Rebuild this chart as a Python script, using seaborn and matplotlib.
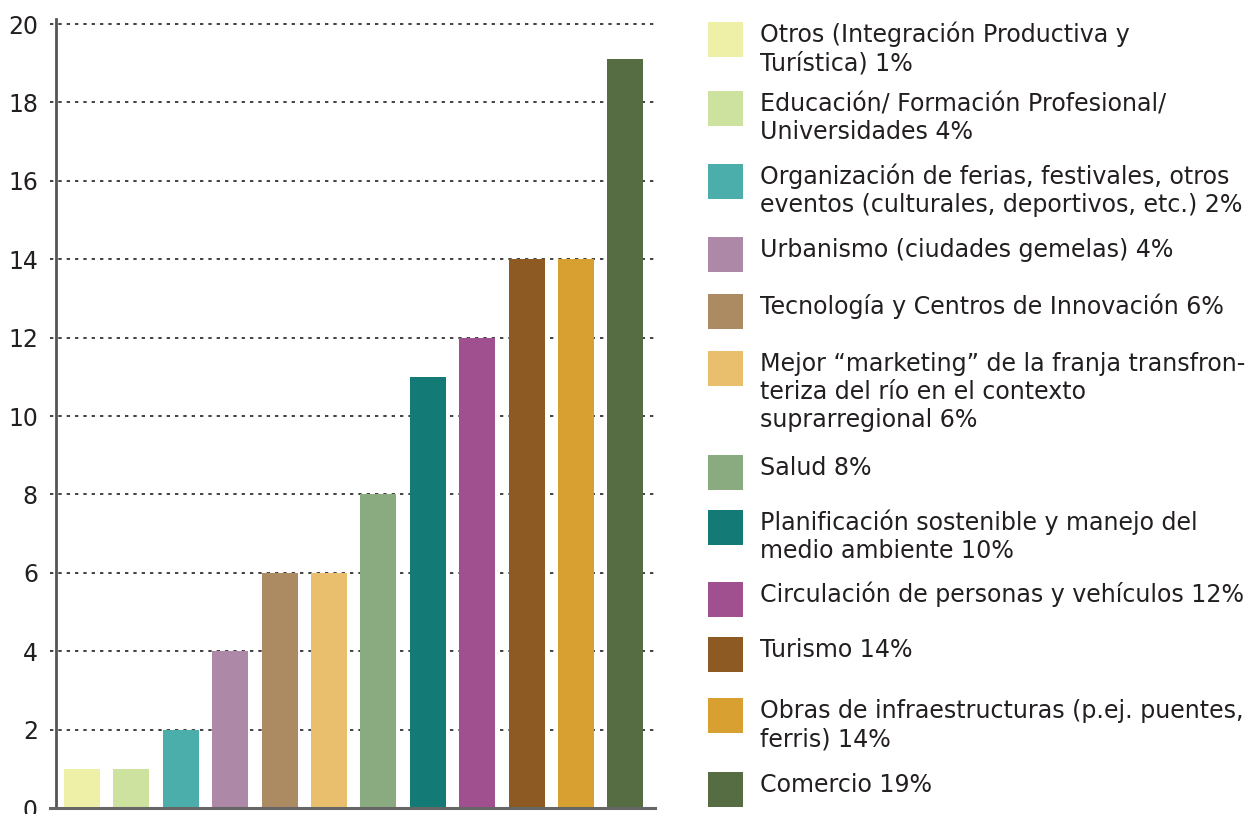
import numpy as np
import pandas as pd
import matplotlib
matplotlib.use("Agg")
import matplotlib.pyplot as plt
import seaborn as sns
from matplotlib.patches import Rectangle

# data
categories = [
    "Otros", "Educación", "Organización", "Urbanismo", "Tecnología", "Marketing",
    "Salud", "Planificación", "Circulación", "Turismo", "Obras", "Comercio",
]
values = [1, 1, 2, 4, 6, 6, 8, 11, 12, 14, 14, 19.1]
colors = [
    "#EFF0A8", "#CCE29E", "#4BAEAB", "#AE89A7", "#AC8A62", "#E9BF6E",
    "#8AAA80", "#137A75", "#A04F8F", "#8C5A22", "#D8A030", "#566D43",
]
legend_labels = [
    "Otros (Integración Productiva y\nTurística) 1%",
    "Educación/ Formación Profesional/\nUniversidades 4%",
    "Organización de ferias, festivales, otros\neventos (culturales, deportivos, etc.) 2%",
    "Urbanismo (ciudades gemelas) 4%",
    "Tecnología y Centros de Innovación 6%",
    "Mejor “marketing” de la franja transfron-\nteriza del río en el contexto\nsuprarregional 6%",
    "Salud 8%",
    "Planificación sostenible y manejo del\nmedio ambiente 10%",
    "Circulación de personas y vehículos 12%",
    "Turismo 14%",
    "Obras de infraestructuras (p.ej. puentes,\nferris) 14%",
    "Comercio 19%",
]
y_ticks = [0, 2, 4, 6, 8, 10, 12, 14, 16, 18, 20]

sns.set_theme(style="white")
plt.rcParams["font.family"] = ["DejaVu Sans"]
text_color = "#231f20"

W, H = 1258, 814
fig = plt.figure(figsize=(W / 100, H / 100), dpi=100)
ax = fig.add_axes([56 / W, 6 / H, (655 - 56) / W, (808 - 19) / H])

df = pd.DataFrame({"cat": categories, "val": values})
sns.barplot(data=df, x="cat", y="val", hue="cat", palette=colors,
            legend=False, width=0.73, saturation=1, linewidth=0,
            ax=ax, zorder=3)

ax.set_xlim(-0.526, 11.6)
ax.set_ylim(0, 20.13)
ax.set_yticks(y_ticks)
ax.set_yticklabels([str(t) for t in y_ticks], fontsize=17, color=text_color)
ax.tick_params(axis="y", length=0, pad=13)
ax.set_xticks([])
ax.set_xlabel("")
ax.set_ylabel("")

# dotted grid, slightly extended past the left spine
ax.hlines(y_ticks[1:], -0.01, 1, transform=ax.get_yaxis_transform(),
          colors="#222222", linestyles=(0, (2, 3)), linewidth=1.2,
          clip_on=False, zorder=1)

for s in ["top", "right"]:
    ax.spines[s].set_visible(False)
ax.spines["left"].set_color("#555555")
ax.spines["left"].set_linewidth(2)
ax.spines["bottom"].set_color("#666666")
ax.spines["bottom"].set_linewidth(2.2)
ax.spines["bottom"].set_bounds(-0.526 - 0.12, 11.6)
ax.spines["bottom"].set_zorder(4)

# legend drawn manually on the right
tops = [22, 91, 164, 237, 294, 351, 455, 510, 582, 637, 698, 772]
line_px = 28
for top, col, lab in zip(tops, colors, legend_labels):
    fig.patches.append(Rectangle((708 / W, 1 - (top + 35) / H), 35 / W, 35 / H,
                                 transform=fig.transFigure, facecolor=col,
                                 edgecolor="none"))
    for k, line in enumerate(lab.split("\n")):
        fig.text(760 / W, 1 - (top + 20 + k * line_px) / H, line,
                 fontsize=17.1, color=text_color, va="baseline", ha="left")

fig.savefig("out.png", dpi=100)
